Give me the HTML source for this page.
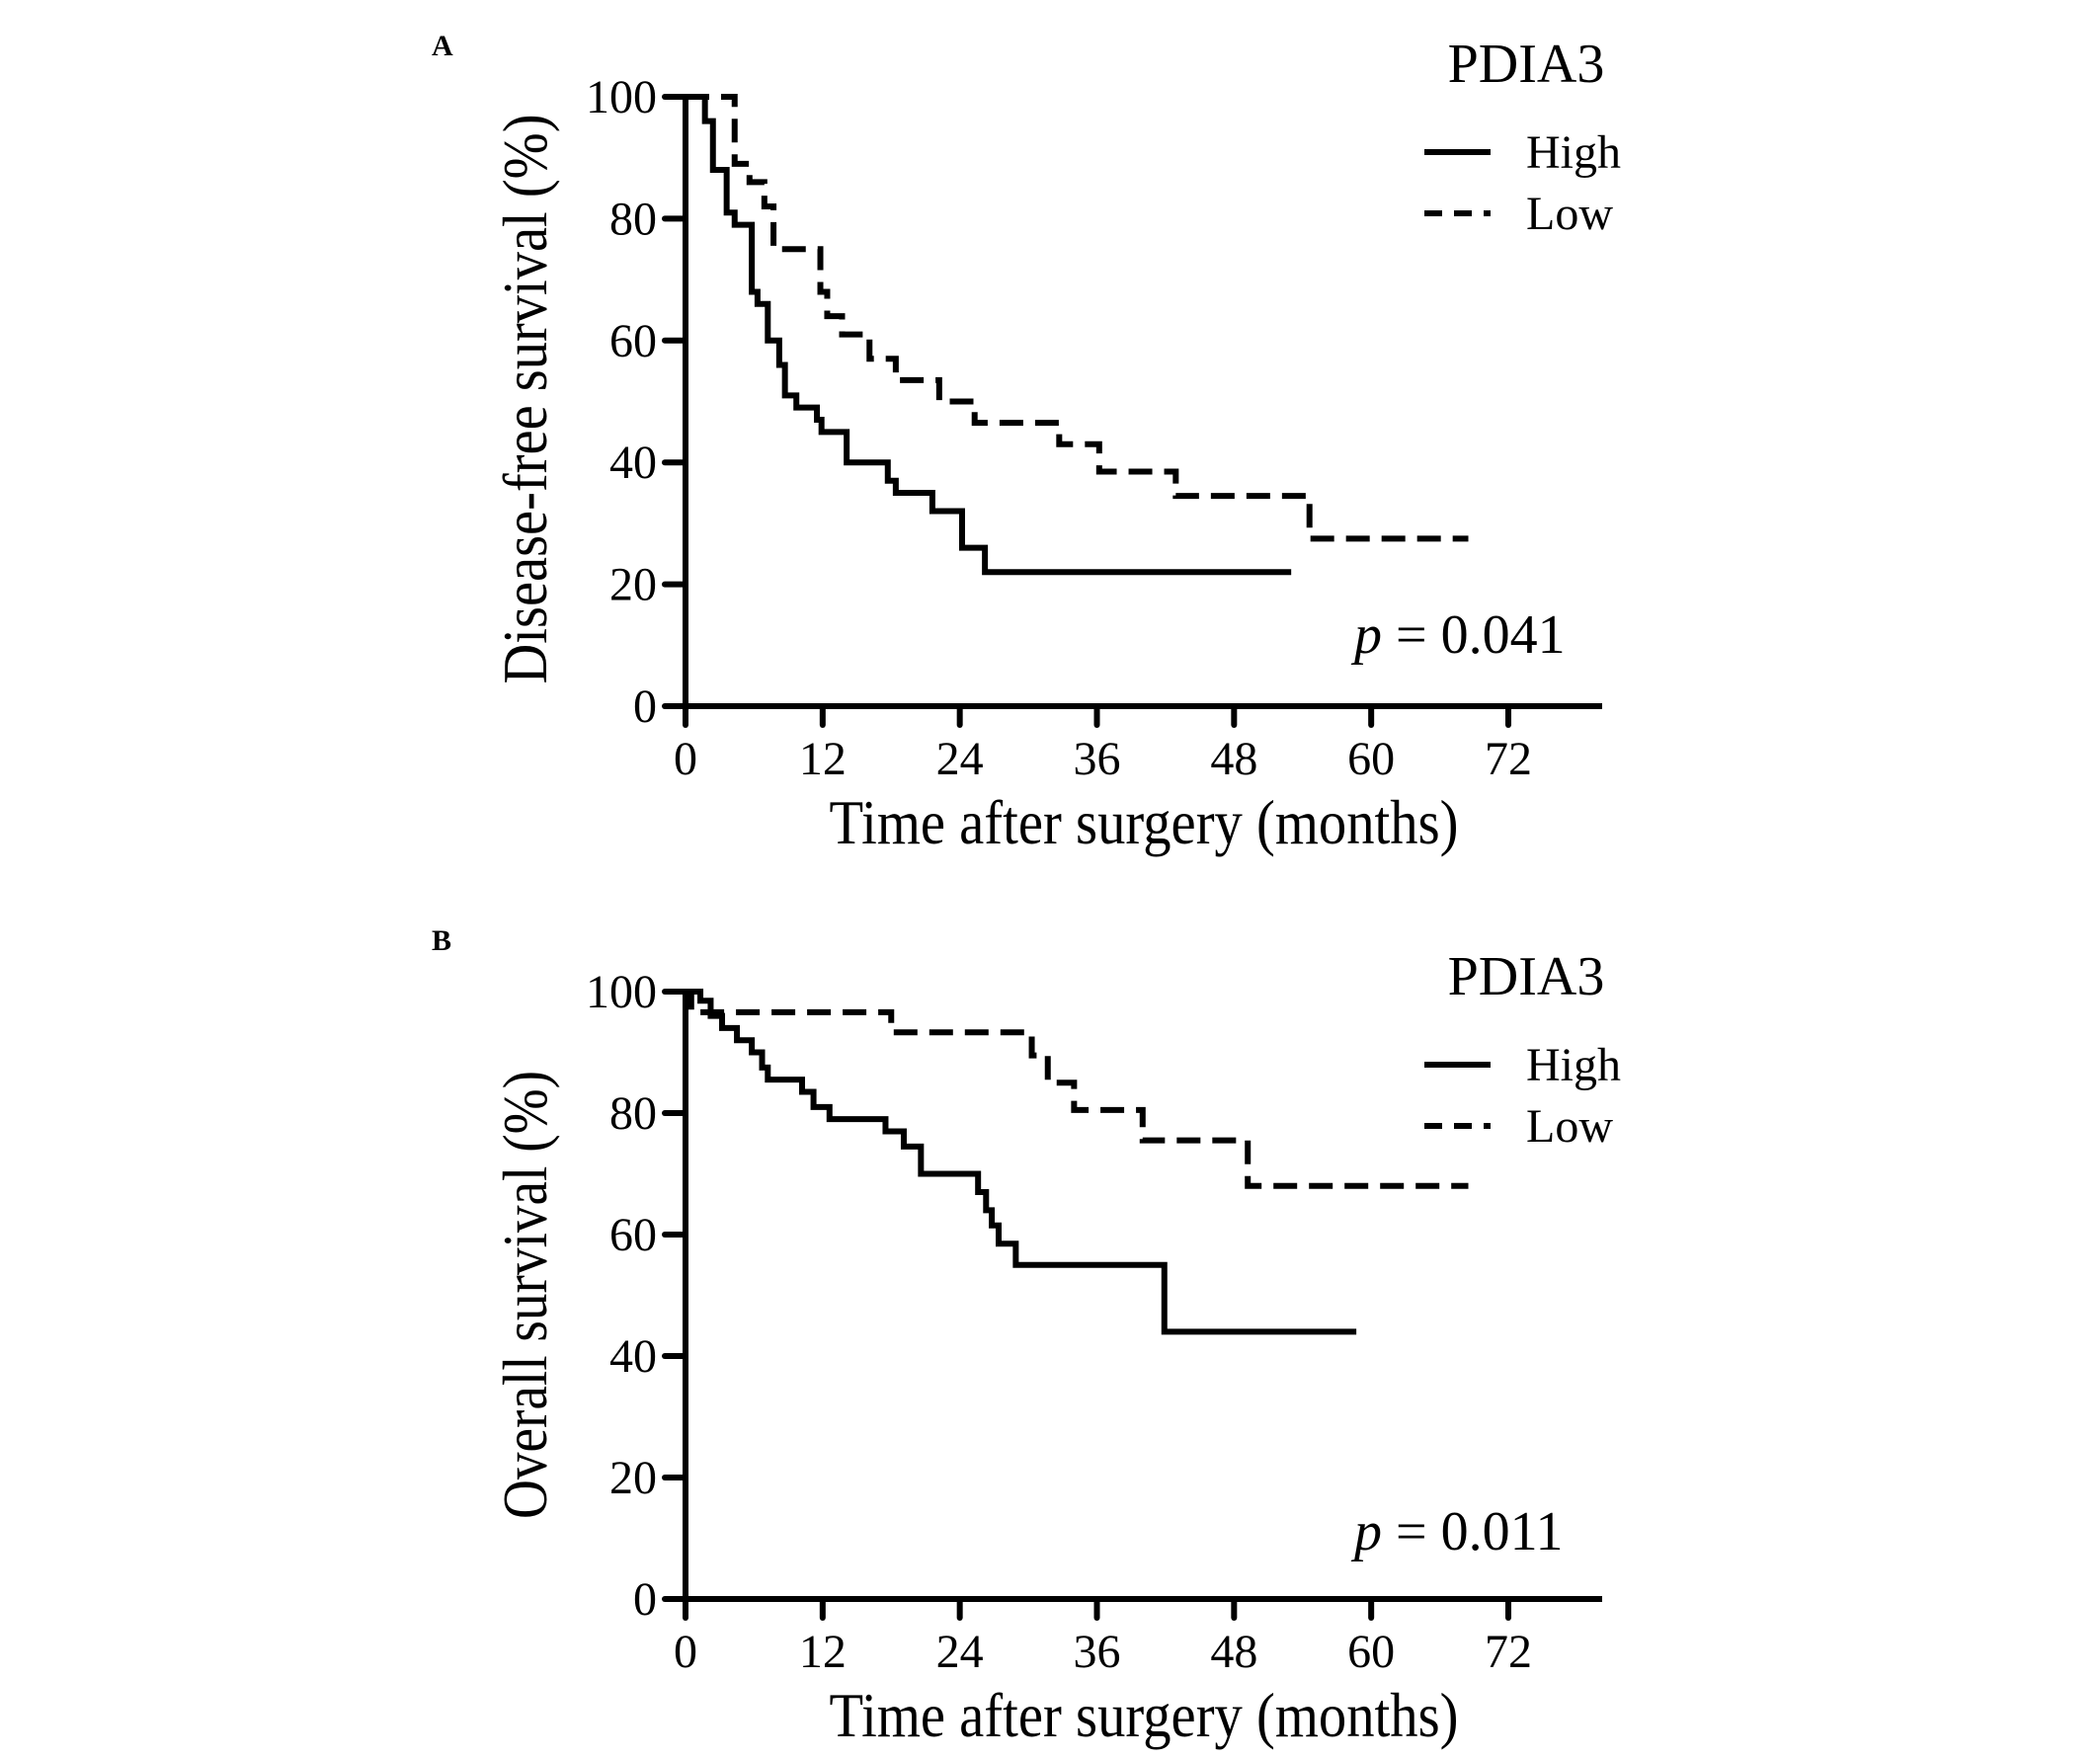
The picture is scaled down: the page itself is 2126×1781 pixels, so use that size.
<!DOCTYPE html>
<html><head><meta charset="utf-8"><style>
html,body{margin:0;padding:0;background:#fff;}
svg{display:block;font-family:"Liberation Serif",serif;}
</style></head><body>
<svg id="fig" width="2126" height="1781" viewBox="0 0 2126 1781" xmlns="http://www.w3.org/2000/svg">
<rect width="2126" height="1781" fill="#fff"/>
</svg>
<script>
// Panel A: disease-free survival
const aHighTimes = [0, 1.7, 2.4, 3.6, 4.3, 5.8, 6.3, 7.2, 8.2, 8.7, 9.7, 11.5, 11.9, 14.1, 17.7, 18.4, 21.6, 24.2, 26.2];
const aHighSurv  = [100, 96, 88, 81, 79, 68, 66, 60, 56, 51, 49, 47, 45, 40, 37, 35, 32, 26, 22];
const aHighEnd = 53;
const aLowTimes = [0, 4.3, 5.6, 6.9, 7.7, 11.8, 12.4, 13.7, 16.1, 18.4, 22.2, 25.3, 32.7, 36.2, 42.9, 54.6];
const aLowSurv  = [100, 89, 86, 82, 75, 68, 64, 61, 57, 53.5, 50, 46.5, 43, 38.5, 34.5, 27.5];
const aLowEnd = 68.5;
// Panel B: overall survival
const bHighTimes = [0, 1.3, 2.2, 3.2, 4.5, 5.8, 6.7, 7.2, 10.2, 11.2, 12.6, 17.5, 19.1, 20.6, 25.6, 26.3, 26.8, 27.4, 28.9, 41.9];
const bHighSurv  = [100, 98.5, 96, 94, 92, 90, 87.5, 85.5, 83.5, 81, 79, 77, 74.5, 70, 67, 64, 61.5, 58.5, 55, 44];
const bHighEnd = 58.7;
const bLowTimes = [0, 0.5, 18.0, 30.3, 31.7, 34.0, 40.0, 49.2];
const bLowSurv  = [100, 96.6, 93.3, 89.5, 85, 80.5, 75.5, 68];
const bLowEnd = 68.5;
const xTicks = [0, 12, 24, 36, 48, 60, 72];
const yTicks = [0, 20, 40, 60, 80, 100];

const NS = "http://www.w3.org/2000/svg";
const svg = document.getElementById('fig');
function mk(tag, attrs, parent, text){
  const e = document.createElementNS(NS, tag);
  for (const k in attrs) e.setAttribute(k, attrs[k]);
  if (text !== undefined) e.textContent = text;
  (parent || svg).appendChild(e);
  return e;
}
function panel(cfg){
  const g = mk('g', {});
  
  
  const x0 = 694, xPer = (1527 - 694) / 72;
  const X = t => x0 + t * xPer;
  const Y = v => cfg.y0 - v * (cfg.y0 - cfg.y100) / 100;
  // panel letter
  const L = mk('text', {x: 437, y: cfg.y100 - 42, 'font-size': 30, 'font-weight': 'bold'}, g, cfg.letter);
  
  
  // axes
  const ax = mk('path', {d: `M${x0} ${Y(100)} V${cfg.y0} H1622`, stroke: '#000', 'stroke-width': 6, fill: 'none'}, g);
  
  
  yTicks.forEach(v => {
    const tk = mk('line', {x1: 673, x2: x0, y1: Y(v), y2: Y(v), stroke: '#000', 'stroke-width': 6, 'stroke-linecap': 'round'}, g);
    
    
    const tl = mk('text', {x: 665, y: Y(v) + 16, 'font-size': 48, 'text-anchor': 'end'}, g, String(v));
    
    
  });
  xTicks.forEach(t => {
    const tk = mk('line', {x1: X(t), x2: X(t), y1: cfg.y0, y2: cfg.y0 + 19, stroke: '#000', 'stroke-width': 6, 'stroke-linecap': 'round'}, g);
    
    
    const tl = mk('text', {x: X(t), y: cfg.y0 + 69, 'font-size': 48, 'text-anchor': 'middle'}, g, String(t));
    
    
  });
  const xt = mk('text', {x: 1158, y: cfg.y0 + 139, 'font-size': 64, 'text-anchor': 'middle', textLength: 637, lengthAdjust: 'spacingAndGlyphs'}, g, 'Time after surgery (months)');
  
  
  const yt = mk('text', {x: 0, y: 0, 'font-size': 64, 'text-anchor': 'middle', textLength: cfg.ylen, lengthAdjust: 'spacingAndGlyphs', transform: `translate(553 ${cfg.ymid}) rotate(-90)`}, g, cfg.ytitle);
  
  
  // curves
  function curve(times, surv, end, dashed, name){
    let d = `M${X(times[0])} ${Y(surv[0])}`;
    for (let i = 1; i < times.length; i++) d += ` H${X(times[i])} V${Y(surv[i])}`;
    d += ` H${X(end)}`;
    const p = mk('path', {d, stroke: '#000', 'stroke-width': 6, fill: 'none', 'stroke-dasharray': dashed ? '24 12' : 'none'}, g);
    
    
  }
  curve(cfg.lowT, cfg.lowS, cfg.lowE, true, 'low-curve');
  curve(cfg.highT, cfg.highS, cfg.highE, false, 'high-curve');
  // legend
  const lg = mk('g', {}, g);
  
  
  const lt = mk('text', {x: 1545, y: cfg.legY, 'font-size': 56, 'text-anchor': 'middle'}, lg, 'PDIA3');
  
  
  const l1 = mk('line', {x1: 1442, x2: 1509, y1: cfg.legY + 71, y2: cfg.legY + 71, stroke: '#000', 'stroke-width': 6}, lg);
  
  
  const t1 = mk('text', {x: 1545, y: cfg.legY + 87, 'font-size': 48}, lg, 'High');
  
  
  const l2 = mk('line', {x1: 1442, x2: 1509, y1: cfg.legY + 133, y2: cfg.legY + 133, stroke: '#000', 'stroke-width': 6, 'stroke-dasharray': '18 12'}, lg);
  
  
  const t2 = mk('text', {x: 1545, y: cfg.legY + 149, 'font-size': 48}, lg, 'Low');
  
  
  // p value
  const pv = mk('text', {x: 1371, y: cfg.pY, 'font-size': 56}, g);
  
  
  mk('tspan', {'font-style': 'italic'}, pv, 'p');
  mk('tspan', {}, pv, ' = ' + cfg.p);
}
panel({name: 'panel-a', letter: 'A', y100: 98, y0: 715, ytitle: 'Disease-free survival (%)', ylen: 577, ymid: 404,
  highT: aHighTimes, highS: aHighSurv, highE: aHighEnd, lowT: aLowTimes, lowS: aLowSurv, lowE: aLowEnd,
  legY: 83, pY: 661, p: '0.041'});
panel({name: 'panel-b', letter: 'B', y100: 1004, y0: 1619, ytitle: 'Overall survival (%)', ylen: 454, ymid: 1311,
  highT: bHighTimes, highS: bHighSurv, highE: bHighEnd, lowT: bLowTimes, lowS: bLowSurv, lowE: bLowEnd,
  legY: 1007, pY: 1569, p: '0.011'});
</script>
</body></html>
